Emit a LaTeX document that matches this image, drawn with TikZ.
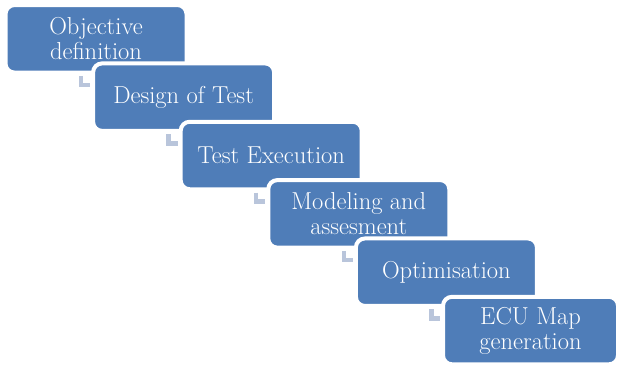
\documentclass[tikz,border=0pt]{standalone}
\usepackage{tikz}
\usetikzlibrary{calc,positioning}
\definecolor{boxblue}{HTML}{4F7DB8}
\definecolor{elbowgray}{HTML}{B9C5DB}

\begin{document}
\begin{tikzpicture}[x = 1pt,
                    y = -1pt,
                    color = {black}]
% style of boxes and elbows
\tikzset{stepbox/.style={rectangle,rounded corners=9pt,fill=boxblue,draw=white,line width=4pt,
                         minimum width=181pt,minimum height=67.5pt,outer sep=0pt,inner sep=0pt,
                         text=white,align=center,font=\fontsize{24.5}{25}\selectfont}}
\tikzset{elbow/.style={draw=elbowgray,line width=4.5pt}}
% frame
\useasboundingbox (0,0) rectangle (617,365);

%boxes
\node[stepbox] (obj) at (96,38.8) {Objective\\definition};
\node[stepbox] (dot) at (183.6,97.15) {Design of Test};
\node[stepbox] (exec) at (271.2,155.5) {Test Execution};
\node[stepbox] (model) at (358.8,213.85) {Modeling and\\assesment};
\node[stepbox] (optim) at (446.4,272.2) {Optimisation};
\node[stepbox, minimum width=175pt] (ecumap) at (530.5,330.55) {ECU Map\\generation};

%elbows
\draw[elbow] ($(obj.south west)+(75.5,3.3)$) |- ($(dot.west)+(-3,-12.2)$);
\draw[elbow] ($(dot.south west)+(75.5,3.3)$) |- ($(exec.west)+(-3,-12.2)$);
\draw[elbow] ($(exec.south west)+(75.5,3.3)$) |- ($(model.west)+(-3,-12.2)$);
\draw[elbow] ($(model.south west)+(75.5,3.3)$) |- ($(optim.west)+(-3,-12.2)$);
\draw[elbow] ($(optim.south west)+(75.5,3.3)$) |- ($(ecumap.west)+(-3,-12.2)$);
\end{tikzpicture}
\end{document}
